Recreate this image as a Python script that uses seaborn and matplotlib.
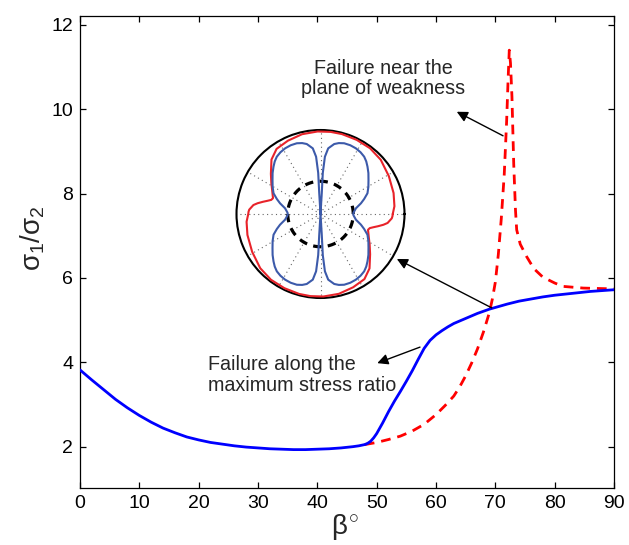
import numpy as np
import pandas as pd
import matplotlib
matplotlib.use("Agg")
import matplotlib.pyplot as plt
import seaborn as sns

# ---------------- data ----------------
beta_max = [0, 2, 4, 6, 8, 10, 12, 14, 16, 18, 20, 22, 24, 26, 28, 30, 32, 34, 36, 38, 40,
            42, 44, 46, 47, 48, 48.5, 49, 49.5, 50, 51, 52, 53, 54, 55, 56, 57, 58, 59, 60,
            61, 62, 63, 64, 65, 66, 67, 68, 69, 70, 72, 74, 76, 78, 80, 82, 84, 86, 88, 90]
ratio_max = [3.82, 3.58, 3.35, 3.12, 2.92, 2.74, 2.58, 2.44, 2.33, 2.23, 2.16, 2.10, 2.06,
             2.02, 1.99, 1.97, 1.95, 1.94, 1.93, 1.93, 1.94, 1.95, 1.97, 2.00, 2.02, 2.05,
             2.08, 2.13, 2.21, 2.31, 2.56, 2.83, 3.08, 3.31, 3.55, 3.80, 4.07, 4.33, 4.52,
             4.65, 4.75, 4.84, 4.92, 4.98, 5.04, 5.10, 5.16, 5.21, 5.26, 5.30, 5.38, 5.45,
             5.50, 5.55, 5.59, 5.62, 5.65, 5.68, 5.70, 5.72]

beta_weak = [48, 50, 52, 54, 56, 58, 60, 61.5, 63, 64, 65, 66, 67, 68, 69, 69.5, 70, 70.5,
             71, 71.5, 71.9, 72.15, 72.35, 72.55, 72.8, 73.1, 73.4, 73.6, 74.2, 75.3, 76.5,
             78, 80, 81.4, 84.8, 90]
ratio_weak = [2.05, 2.10, 2.17, 2.25, 2.37, 2.53, 2.76, 2.97, 3.20, 3.42, 3.68, 3.98, 4.32,
              4.72, 5.18, 5.50, 5.90, 6.55, 7.40, 8.45, 9.70, 10.7, 11.4, 11.1, 10.3, 8.7,
              7.6, 7.14, 6.8, 6.5, 6.22, 6.02, 5.88, 5.80, 5.76, 5.74]

x_ticks = [0, 10, 20, 30, 40, 50, 60, 70, 80, 90]
y_ticks = [2, 4, 6, 8, 10, 12]

# inset (polar) data
# blue: one lobe traced from the centre (90 deg) to the cusp (180 deg); the other
# three lobes are its mirror images
inset_theta_blue = [90, 93.5, 93.2, 94.4, 96.7, 101.1, 104.5, 108.5, 113.4, 118.3, 123,
                    127.3, 131, 134.8, 139.5, 144.7, 150.5, 156.2, 161, 165.2, 170.9,
                    177.7, 180]
inset_r_blue = [0.0, 0.25, 0.49, 0.684, 0.787, 0.849, 0.872, 0.888, 0.892, 0.888, 0.876,
                0.858, 0.83, 0.794, 0.75, 0.700, 0.655, 0.611, 0.55, 0.498, 0.427,
                0.393, 0.39]
# red: half a turn (the curve repeats after 180 deg)
inset_theta_red = [0, 6, 16, 29, 42, 53, 64, 75, 83, 92, 103, 114, 124, 132, 141, 148,
                   154, 161.6, 164, 166, 168, 170.3, 172.4, 176.5, 178.2, 180]
inset_r_red = [0.86, 0.885, 0.905, 0.93, 0.965, 0.98, 0.982, 0.985, 0.985, 0.983, 0.975,
               0.955, 0.935, 0.872, 0.76, 0.69, 0.64, 0.596, 0.61, 0.65, 0.70, 0.76,
               0.806, 0.85, 0.857, 0.86]
inset_r_circle = 0.39

# ---------------- style ----------------
sns.set_style("ticks")
plt.rcParams["font.family"] = ["Liberation Sans", "DejaVu Sans"]
plt.rcParams["mathtext.fontset"] = "custom"
plt.rcParams["mathtext.rm"] = "Liberation Sans"
plt.rcParams["mathtext.it"] = "Liberation Sans"
plt.rcParams["mathtext.bf"] = "Liberation Sans:bold"

fig = plt.figure(figsize=(6.29, 5.45), dpi=100)
ax = fig.add_axes([80 / 629, 57 / 545, 534 / 629, 472 / 545])

df_max = pd.DataFrame({"beta": beta_max, "ratio": ratio_max})
df_weak = pd.DataFrame({"beta": beta_weak, "ratio": ratio_weak})

sns.lineplot(data=df_weak, x="beta", y="ratio", ax=ax, color="#ff0000", linewidth=2.0,
             linestyle=(0, (3.5, 2.5)), errorbar=None, zorder=2)
sns.lineplot(data=df_max, x="beta", y="ratio", ax=ax, color="#0000ff", linewidth=2.0,
             errorbar=None, zorder=3)

ax.set_xlim(0, 90)
ax.set_ylim(1.02, 12.21)
ax.set_xticks(x_ticks)
ax.set_yticks(y_ticks)
ax.set_xlabel("")
ax.set_ylabel("")
ax.tick_params(direction="in", length=4, width=0.9, labelsize=14, pad=5,
               top=True, right=True, colors="black")
for s in ax.spines.values():
    s.set_linewidth(0.9)
    s.set_color("black")

fig.text(33 / 629, (545 - 238) / 545, r"$\sigma_1/\sigma_2$", rotation=90,
         ha="center", va="center", fontsize=20)
fig.text(345 / 629, (545 - 527) / 545, r"$\beta^{\circ}$", ha="center", va="center",
         fontsize=20)

# annotations
ax.text(51.1, 10.73, "Failure near the\nplane of weakness", ha="center", va="center",
        fontsize=14.2, linespacing=1.1)
ax.text(21.6, 3.70, "Failure along the\nmaximum stress ratio", ha="left", va="center",
        fontsize=14.2, linespacing=1.1)

arrow_kw = dict(arrowstyle="-|>", color="black", lw=1.0, mutation_scale=16,
                shrinkA=0, shrinkB=0)
ax.annotate("", xy=(63.5, 9.94), xytext=(71.3, 9.37), arrowprops=arrow_kw)
ax.annotate("", xy=(53.4, 6.45), xytext=(69.4, 5.29), arrowprops=arrow_kw)
ax.annotate("", xy=(50.1, 3.98), xytext=(57.3, 4.36), arrowprops=arrow_kw)

# ---------------- inset polar ----------------
cx, cy, R = 320.5, 214, 84
pax = fig.add_axes([(cx - R) / 629, (545 - cy - R) / 545, 2 * R / 629, 2 * R / 545],
                   projection="polar")
pax.set_facecolor("white")
pax.set_rlim(0, 1)
pax.set_yticks([])
pax.set_thetagrids(range(0, 360, 30), labels=[])
pax.grid(True, color="#666666", linestyle=(0, (1, 3)), linewidth=0.8)
pax.spines["polar"].set_linewidth(1.5)
pax.spines["polar"].set_color("black")

tA = list(inset_theta_blue)
rA = list(inset_r_blue)
theta_b = (tA                                   # top-left lobe
           + [360 - t for t in tA[::-1]]        # bottom-left lobe
           + [180 + t for t in tA]              # bottom-right lobe
           + [180 - t for t in tA[::-1]])       # top-right lobe
r_b = rA + rA[::-1] + rA + rA[::-1]
theta_r = list(inset_theta_red) + [180 + t for t in inset_theta_red]
r_r = list(inset_r_red) + list(inset_r_red)

circ_t = np.linspace(0, 2 * np.pi, 361)
pax.plot(circ_t, np.full_like(circ_t, inset_r_circle), color="black", lw=2.3,
         linestyle=(0, (2.6, 2.0)), zorder=3)
l_red, = pax.plot(np.deg2rad(theta_r), r_r, color="#e8232a", lw=1.5, zorder=4)
l_blue, = pax.plot(np.deg2rad(theta_b), r_b, color="#3c5aaa", lw=1.5, zorder=5)
pax.set_rlim(0, 1)

fig.savefig("out.png", dpi=100)
